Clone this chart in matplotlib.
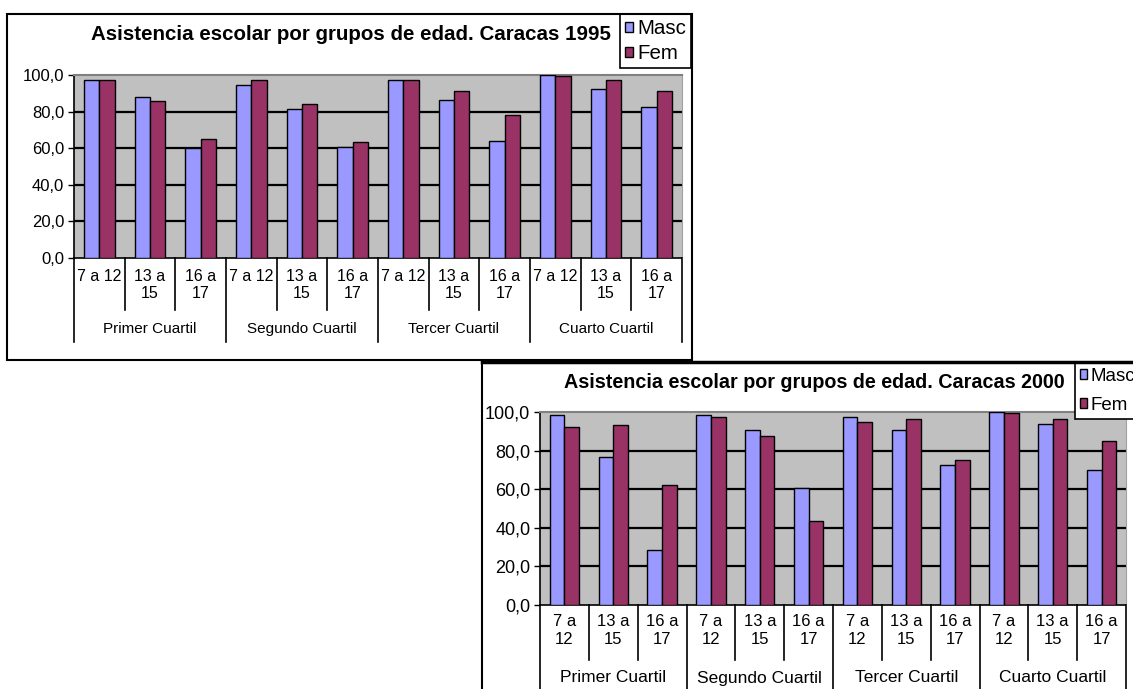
import numpy as np
import matplotlib
matplotlib.use('Agg')
import matplotlib.pyplot as plt
from matplotlib.lines import Line2D
from matplotlib.patches import Rectangle

W, H = 1133, 689

# datos
grupos = ["Primer Cuartil", "Segundo Cuartil", "Tercer Cuartil", "Cuarto Cuartil"]
edades_1995 = ["7 a 12", "13 a\n15", "16 a\n17"]
edades_2000 = ["7 a\n12", "13 a\n15", "16 a\n17"]

masc_1995 = [97.3, 87.8, 60.0, 94.5, 81.2, 60.8, 97.3, 86.1, 63.9, 100.0, 92.2, 82.6]
fem_1995 = [97.3, 85.6, 65.1, 97.3, 84.3, 63.2, 97.3, 91.2, 78.3, 99.5, 97.3, 91.2]
masc_2000 = [98.3, 76.9, 28.3, 98.3, 90.7, 60.4, 97.4, 90.9, 72.3, 100.0, 93.6, 69.8]
fem_2000 = [92.2, 93.1, 62.2, 97.6, 87.6, 43.6, 94.8, 96.2, 75.0, 99.5, 96.2, 84.8]

col_masc = '#9999FF'
col_fem = '#993366'

plt.rcParams['font.family'] = ['Liberation Sans', 'DejaVu Sans']


def caja_px(x0, y0, x1, y1):
    return [x0 / W, 1 - y1 / H, (x1 - x0) / W, (y1 - y0) / H]


def grafico(fig, caja, titulo, pos_titulo, masc, fem, edades, filas, pos_ley, tam):
    x0, y0, x1, y1 = caja
    ax = fig.add_axes(caja_px(*caja))
    ax.set_facecolor('#C0C0C0')
    n = len(masc)
    x = np.arange(n)
    b1 = ax.bar(x - 0.15, masc, 0.3, color=col_masc, edgecolor='black', linewidth=1, zorder=3)
    b2 = ax.bar(x + 0.15, fem, 0.3, color=col_fem, edgecolor='black', linewidth=1, zorder=3)
    ax.set_xlim(-0.5, n - 0.5)
    ax.set_ylim(0, 100)
    ticks = np.arange(0, 101, 20)
    ax.set_yticks(ticks)
    ax.yaxis.set_major_formatter(lambda v, p: f"{v:.1f}".replace('.', ','))
    for v in ticks[1:-1]:
        ax.axhline(v, color='black', linewidth=1.6, zorder=1)
    ax.set_xticks([])
    ax.tick_params(axis='y', direction='out', length=4, width=1, labelsize=tam['ticks'], pad=3)
    ax.spines['left'].set_linewidth(1.2)
    ax.spines['bottom'].set_linewidth(1.2)
    ax.spines['top'].set_color('#808080')
    ax.spines['top'].set_linewidth(1.5)
    ax.spines['right'].set_color('#A0A0A0')

    # etiquetas de categorias en dos niveles
    trans = ax.get_xaxis_transform()
    ya = lambda ypx: (y1 - ypx) / (y1 - y0)
    for i in range(n):
        ax.text(i, ya(filas['lab']), edades[i % 3], ha='center', va='top', transform=trans,
                fontsize=tam['lab'], linespacing=filas['esp'])
    for k in range(n + 1):
        fin = filas['grp_fin'] if k % 3 == 0 else filas['cat_fin']
        ax.plot([k - 0.5, k - 0.5], [0, ya(fin)], transform=trans, color='black',
                linewidth=1.2, clip_on=False)
    for g, nombre in enumerate(grupos):
        ax.text(3 * g + 1, ya(filas['grp']), nombre, ha='center', va='center', transform=trans,
                fontsize=tam['grp'])

    fig.text(pos_titulo[0] / W, 1 - pos_titulo[1] / H, titulo, ha='center', va='center',
             fontsize=tam['titulo'], fontweight='bold')

    ley = ax.legend([b1, b2], ['Masc', 'Fem'], loc='upper left',
                    bbox_to_anchor=(pos_ley[0] / W, 1 - pos_ley[1] / H),
                    bbox_transform=fig.transFigure, borderaxespad=0, fancybox=False,
                    edgecolor='black', framealpha=1, fontsize=tam['ley'],
                    handlelength=0.4, handleheight=0.4, handletextpad=0.2,
                    labelspacing=tam['ley_esp'], borderpad=0.25)
    ley.get_frame().set_linewidth(1.2)
    return ax


fig = plt.figure(figsize=(W / 100, H / 100), dpi=100)

grafico(fig, (74, 75, 682, 258), "Asistencia escolar por grupos de edad. Caracas 1995", (351, 35),
        masc_1995, fem_1995, edades_1995,
        {'lab': 269, 'cat_fin': 310, 'grp': 329, 'grp_fin': 342, 'esp': 1.15},
        (620, 14), {'ticks': 12, 'lab': 11.5, 'grp': 11, 'titulo': 14.8, 'ley': 14.8, 'ley_esp': 0.3})

grafico(fig, (540, 412, 1126, 605), "Asistencia escolar por grupos de edad. Caracas 2000", (814, 383),
        masc_2000, fem_2000, edades_2000,
        {'lab': 614, 'cat_fin': 660, 'grp': 678, 'grp_fin': 700, 'esp': 1.25},
        (1075, 363), {'ticks': 13, 'lab': 12, 'grp': 12.5, 'titulo': 14.2, 'ley': 13.5, 'ley_esp': 0.65})

# marcos de los graficos
fig.add_artist(Rectangle((7 / W, 1 - 360 / H), 685 / W, 346 / H, transform=fig.transFigure,
                         fill=False, edgecolor='black', linewidth=1.5))
fig.add_artist(Line2D([482 / W, 1], [1 - 362 / H, 1 - 362 / H], transform=fig.transFigure,
                      color='black', linewidth=2.5))
fig.add_artist(Line2D([482 / W, 482 / W], [0, 1 - 362 / H], transform=fig.transFigure,
                      color='black', linewidth=1.5))

fig.savefig('out.png', dpi=100)
